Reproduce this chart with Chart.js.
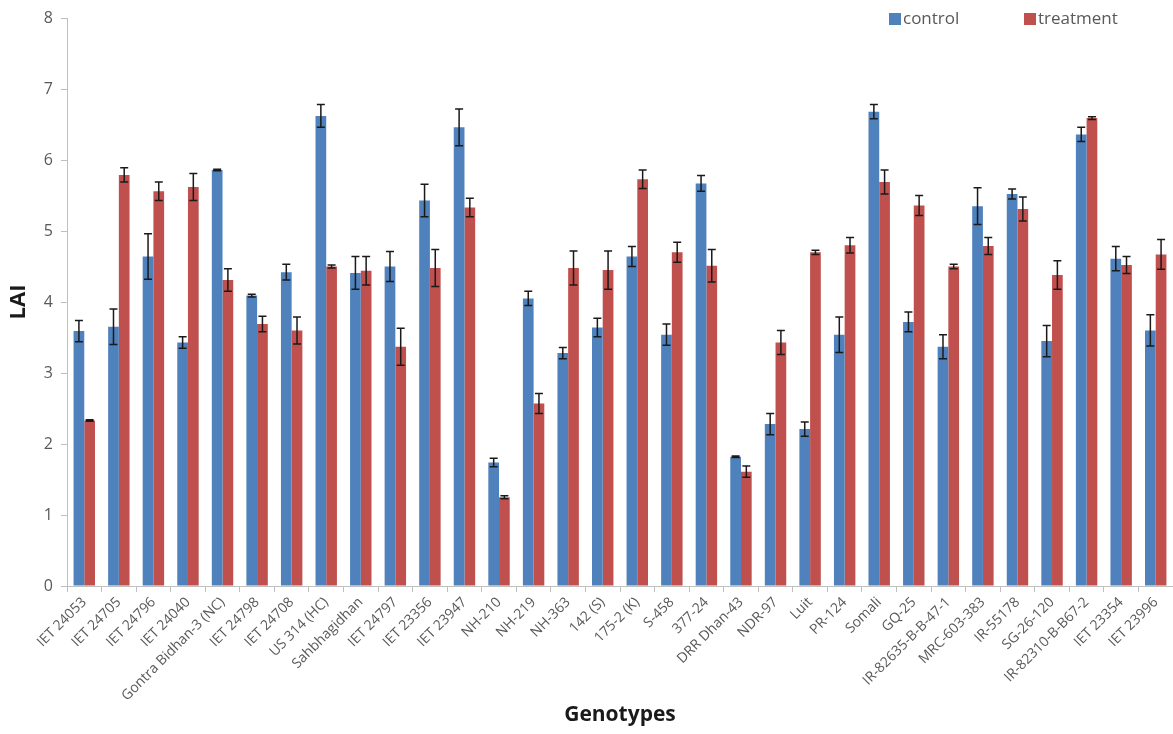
<!DOCTYPE html>
<html>
<head>
<meta charset="utf-8">
<script src="https://cdn.jsdelivr.net/npm/chart.js@4.4.0/dist/chart.umd.min.js"></script>
<style>
  html, body { margin: 0; padding: 0; background: #fff; }
  #wrap { width: 1173px; height: 734px; position: relative; }
</style>
</head>
<body>
<div id="wrap"><canvas id="laiChart"></canvas></div>
<script>
// Genotipos y valores de LAI
const genotypes = ['IET 24053', 'IET 24705', 'IET 24796', 'IET 24040', 'Gontra Bidhan-3 (NC)', 'IET 24798',
  'IET 24708', 'US 314 (HC)', 'Sahbhagidhan', 'IET 24797', 'IET 23356', 'IET 23947', 'NH-210', 'NH-219',
  'NH-363', '142 (S)', '175-2 (K)', 'S-458', '377-24', 'DRR Dhan-43', 'NDR-97', 'Luit', 'PR-124', 'Somali',
  'GQ-25', 'IR-82635-B-B-47-1', 'MRC-603-383', 'IR-55178', 'SG-26-120', 'IR-82310-B-B67-2', 'IET 23354', 'IET 23996'];

const control = [3.59, 3.65, 4.64, 3.43, 5.86, 4.09, 4.42, 6.62, 4.41, 4.50, 5.43, 6.46, 1.74, 4.05,
  3.28, 3.64, 4.64, 3.54, 5.67, 1.82, 2.28, 2.21, 3.54, 6.68, 3.72, 3.37, 5.35, 5.52, 3.45, 6.36, 4.61, 3.60];
const controlErr = [0.15, 0.25, 0.32, 0.08, 0.01, 0.02, 0.11, 0.16, 0.23, 0.21, 0.23, 0.26, 0.06, 0.10,
  0.08, 0.13, 0.14, 0.15, 0.11, 0.01, 0.15, 0.10, 0.25, 0.10, 0.14, 0.17, 0.26, 0.07, 0.22, 0.10, 0.17, 0.22];

const treatment = [2.33, 5.79, 5.56, 5.62, 4.31, 3.69, 3.60, 4.50, 4.44, 3.37, 4.48, 5.33, 1.25, 2.57,
  4.48, 4.45, 5.73, 4.70, 4.51, 1.61, 3.43, 4.70, 4.80, 5.69, 5.36, 4.50, 4.79, 5.31, 4.38, 6.59, 4.52, 4.67];
const treatmentErr = [0.01, 0.10, 0.13, 0.19, 0.16, 0.11, 0.19, 0.02, 0.20, 0.26, 0.26, 0.13, 0.02, 0.14,
  0.24, 0.27, 0.13, 0.14, 0.23, 0.08, 0.17, 0.03, 0.11, 0.17, 0.14, 0.03, 0.12, 0.17, 0.20, 0.02, 0.12, 0.21];

const yTicks = [0, 1, 2, 3, 4, 5, 6, 7, 8];

const BLUE = '#4f81bd';
const RED = '#c0504d';
const GREY = '#595959';

// Barras de error (no vienen con Chart.js)
const errorBars = {
  id: 'errorBars',
  afterDatasetsDraw(chart) {
    const ctx = chart.ctx;
    const y = chart.scales.y;
    chart.data.datasets.forEach((ds, i) => {
      const meta = chart.getDatasetMeta(i);
      meta.data.forEach((bar, j) => {
        const v = ds.data[j];
        const e = ds.errors[j];
        const top = y.getPixelForValue(v + e);
        const bot = y.getPixelForValue(v - e);
        ctx.save();
        ctx.strokeStyle = '#1a1a1a';
        ctx.lineWidth = 1.5;
        ctx.beginPath();
        ctx.moveTo(bar.x, top);
        ctx.lineTo(bar.x, bot);
        ctx.moveTo(bar.x - 4, top);
        ctx.lineTo(bar.x + 4, top);
        ctx.moveTo(bar.x - 4, bot);
        ctx.lineTo(bar.x + 4, bot);
        ctx.stroke();
        ctx.restore();
      });
    });
  }
};

// Leyenda dentro del área del gráfico, arriba a la derecha
const cornerLegend = {
  id: 'cornerLegend',
  afterDraw(chart) {
    const ctx = chart.ctx;
    const area = chart.chartArea;
    const cy = area.top + 1;
    const items = [
      { text: 'control', color: BLUE, x: area.right - 284 },
      { text: 'treatment', color: RED, x: area.right - 149 }
    ];
    ctx.save();
    ctx.font = '17px "Open Sans", sans-serif';
    ctx.textBaseline = 'middle';
    items.forEach(it => {
      ctx.fillStyle = it.color;
      ctx.fillRect(it.x, cy - 6, 12, 12);
      ctx.fillStyle = GREY;
      ctx.fillText(it.text, it.x + 14, cy);
    });
    ctx.restore();
  }
};

const ctx = document.getElementById('laiChart');
new Chart(ctx, {
  type: 'bar',
  data: {
    labels: genotypes,
    datasets: [
      {
        label: 'control',
        data: control,
        errors: controlErr,
        backgroundColor: BLUE,
        categoryPercentage: 0.62,
        barPercentage: 1.0
      },
      {
        label: 'treatment',
        data: treatment,
        errors: treatmentErr,
        backgroundColor: RED,
        categoryPercentage: 0.62,
        barPercentage: 1.0
      }
    ]
  },
  options: {
    responsive: true,
    maintainAspectRatio: false,
    animation: false,
    layout: {
      padding: { top: 18, right: 0, left: 0, bottom: 0 }
    },
    plugins: {
      legend: { display: false },
      tooltip: { enabled: false }
    },
    scales: {
      y: {
        min: 0,
        max: 8,
        afterFit: function (scale) { scale.width = 67; },
        afterBuildTicks: function (scale) {
          scale.ticks = yTicks.map(v => ({ value: v }));
        },
        border: { color: '#bfbfbf', width: 1 },
        grid: {
          drawOnChartArea: false,
          drawTicks: true,
          tickLength: 6,
          color: '#bfbfbf'
        },
        ticks: {
          color: GREY,
          font: { size: 16, family: '"Open Sans", sans-serif' },
          padding: 8
        },
        title: {
          display: true,
          text: 'LAI',
          color: '#1a1a1a',
          font: { size: 22, weight: 'bold', family: '"Open Sans", sans-serif' },
          padding: { top: 6, bottom: 0 }
        }
      },
      x: {
        afterFit: function (scale) { scale.height = 148; },
        border: { color: '#bfbfbf', width: 1 },
        grid: {
          offset: true,
          drawOnChartArea: false,
          drawTicks: true,
          tickLength: 6,
          color: '#bfbfbf'
        },
        ticks: {
          autoSkip: false,
          minRotation: 45,
          maxRotation: 45,
          color: GREY,
          font: { size: 14, family: '"Open Sans", sans-serif' },
          padding: 2
        },
        title: {
          display: true,
          text: 'Genotypes',
          color: '#1a1a1a',
          font: { size: 21, weight: 'bold', family: '"Open Sans", sans-serif' },
          padding: { top: 0, bottom: 6 }
        }
      }
    }
  },
  plugins: [errorBars, cornerLegend]
});
</script>
</body>
</html>
